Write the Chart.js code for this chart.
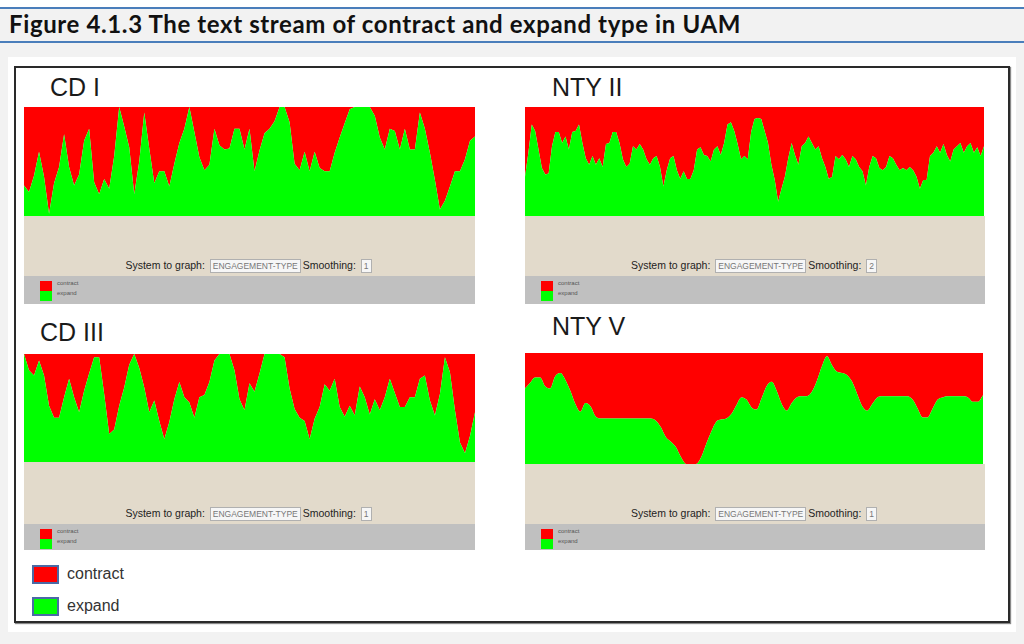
<!DOCTYPE html>
<html>
<head>
<meta charset="utf-8">
<script src="https://cdn.jsdelivr.net/npm/chart.js@4.4.1/dist/chart.umd.min.js"></script>
<style>
  body { margin: 0; width: 1024px; height: 644px; background: #f2f2f2; position: relative; overflow: hidden; font-family: Arial, "Liberation Sans", sans-serif; }
  .abs { position: absolute; }
  #topwhite { left: 0; top: 0; width: 1024px; height: 7px; background: #fff; }
  .blue { left: 0; width: 1024px; height: 2px; background: #4a7ebb; }
  #title { left: 9px; top: 9px; font-family: Lato, "Open Sans", sans-serif; font-weight: bold; font-size: 24px; color: #111; white-space: nowrap; }
  #sheet { left: 8px; top: 57px; width: 1008px; height: 575px; background: #fff; }
  #frame { left: 14px; top: 66px; width: 992px; height: 553px; border: 2px solid #2a2a2a; box-shadow: 1px 1px 1px #888; }
  .ptitle { font-size: 25px; color: #1a1a1a; white-space: nowrap; }
  .beige { background: #e2dacb; }
  .grey { background: #c0c0c0; }
  .sys { font-size: 10.5px; color: #222; white-space: nowrap; text-align: center; }
  .box { display: inline-block; border: 1px solid #b0b0b0; background: #f6f6f6; color: #777; padding: 0 2px; margin: 0 2px; font-size: 8.5px; line-height: 12px; vertical-align: middle; }
  .sq { width: 12px; height: 10px; }
  .tiny { font-size: 6px; color: #555; }
  .big { width: 23px; height: 15px; border: 2px solid #4a6aa5; }
  .bigtxt { font-size: 16px; color: #333; }
</style>
</head>
<body>
<div class="abs" id="topwhite"></div>
<div class="abs blue" style="top:7px"></div>
<div class="abs blue" style="top:41px"></div>
<div class="abs" id="title">Figure 4.1.3 The text stream of contract and expand type in UAM</div>
<div class="abs" id="sheet"></div>
<div class="abs" id="frame"></div>
<div id="panels"></div>
<div class="abs big" style="left:32px;top:565px;background:#ff0000"></div>
<div class="abs bigtxt" style="left:67px;top:565px">contract</div>
<div class="abs big" style="left:32px;top:597px;background:#00ff00"></div>
<div class="abs bigtxt" style="left:67px;top:597px">expand</div>

<script>
// share of "expand" in the text stream, % (contract = the rest)
var cd1Expand = [28, 22, 37, 59, 36, 2, 30, 45, 75, 45, 28, 38, 69, 80, 31, 20,
  34, 25, 55, 100, 82, 63, 20, 50, 95, 62, 30, 41, 41, 27, 48, 67, 80, 100, 77, 54,
  42, 47, 80, 65, 61, 62, 80, 80, 61, 80, 41, 60, 76, 80, 87, 100, 100, 86, 48, 42,
  59, 41, 59, 44, 41, 41, 58, 72, 85, 98, 100, 100, 100, 100, 92, 72, 61, 80, 78, 61,
  80, 61, 61, 95, 80, 58, 33, 6, 14, 27, 41, 41, 52, 69, 73];

var nty2Expand = [36, 58, 84, 78, 61, 44, 38, 39, 64, 77, 77, 67, 73, 61, 77, 78,
  84, 67, 53, 47, 55, 47, 53, 45, 66, 67, 77, 77, 67, 52, 45, 48, 64, 61, 66, 61,
  52, 47, 53, 55, 45, 27, 42, 53, 55, 42, 34, 41, 34, 34, 42, 61, 63, 56, 55, 50,
  61, 64, 56, 67, 84, 86, 78, 66, 52, 55, 52, 77, 89, 90, 89, 78, 67, 47, 33, 13,
  25, 36, 53, 67, 56, 47, 64, 67, 73, 67, 61, 64, 53, 45, 34, 36, 55, 52, 56, 52,
  45, 55, 52, 45, 41, 28, 45, 55, 53, 44, 42, 45, 55, 53, 47, 42, 44, 42, 45, 42,
  36, 25, 33, 33, 55, 58, 64, 58, 66, 56, 50, 61, 64, 67, 58, 64, 67, 58, 63, 55, 64];

var cd3Expand = [100, 85, 80, 94, 80, 52, 41, 41, 60, 77, 60, 46, 66, 82, 97, 97,
  63, 26, 30, 52, 69, 90, 100, 87, 69, 46, 57, 38, 21, 37, 58, 74, 60, 55, 41, 60,
  62, 74, 94, 100, 100, 100, 85, 58, 48, 73, 65, 82, 100, 100, 100, 100, 97, 68, 49, 41,
  38, 21, 40, 51, 72, 66, 77, 51, 42, 52, 43, 70, 60, 44, 58, 48, 60, 77, 64, 51,
  51, 60, 60, 77, 80, 57, 43, 63, 97, 83, 48, 18, 8, 24, 46];

var nty5Expand = [68, 73, 78, 78, 70, 68, 79, 82, 76, 66, 54, 47, 55, 52, 43, 41,
  41, 41, 41, 41, 41, 41, 41, 41, 41, 41, 39, 33, 24, 20, 15, 6, 0, 0, 0, 6,
  18, 29, 38, 40, 41, 45, 53, 60, 58, 51, 49, 59, 70, 74, 66, 54, 48, 55, 60, 61,
  61, 65, 75, 88, 97, 89, 83, 82, 80, 74, 63, 52, 48, 54, 60, 61, 61, 61, 61, 61,
  61, 58, 50, 42, 42, 50, 58, 60, 61, 61, 61, 61, 60, 56, 56, 62];

var panelNames = ['CD I', 'NTY II', 'CD III', 'NTY V'];
var smoothing = ['1', '2', '1', '1'];

var panels = [
  { data: cd1Expand, title: [50, 73], chart: [24, 107, 451, 109], strip: [24, 216, 451, 60, 28], smooth: false },
  { data: nty2Expand, title: [552, 73], chart: [525, 107, 459, 109], strip: [525, 216, 460, 60, 28], smooth: false },
  { data: cd3Expand, title: [40, 318], chart: [24, 354, 451, 108], strip: [24, 462, 451, 62, 26], smooth: false },
  { data: nty5Expand, title: [552, 312], chart: [525, 353, 458, 111], strip: [525, 464, 460, 60, 26], smooth: true }
];

// stretch the heading to the width it has in the figure
var t = document.getElementById('title');
var txt = t.textContent;
t.style.letterSpacing = ((732 - t.getBoundingClientRect().width) / txt.length) + 'px';

var host = document.getElementById('panels');

function el(tag, cls, css, html) {
  var d = document.createElement(tag);
  d.className = cls;
  d.style.cssText = css;
  if (html) d.innerHTML = html;
  host.appendChild(d);
  return d;
}

panels.forEach(function(p, k) {
  el('div', 'abs ptitle', 'left:' + p.title[0] + 'px;top:' + p.title[1] + 'px', panelNames[k]);

  var s = p.strip;
  el('div', 'abs beige', 'left:' + s[0] + 'px;top:' + s[1] + 'px;width:' + s[2] + 'px;height:' + s[3] + 'px');
  el('div', 'abs sys', 'left:' + s[0] + 'px;top:' + (s[1] + s[3] - 17) + 'px;width:' + s[2] + 'px',
    'System to graph: <span class="box">ENGAGEMENT-TYPE</span>Smoothing: <span class="box">' + smoothing[k] + '</span>');
  el('div', 'abs grey', 'left:' + s[0] + 'px;top:' + (s[1] + s[3]) + 'px;width:' + s[2] + 'px;height:' + s[4] + 'px');
  el('div', 'abs sq', 'left:' + (s[0] + 16) + 'px;top:' + (s[1] + s[3] + 5) + 'px;background:#ff0000');
  el('div', 'abs sq', 'left:' + (s[0] + 16) + 'px;top:' + (s[1] + s[3] + 15) + 'px;background:#00ff00');
  el('div', 'abs tiny', 'left:' + (s[0] + 33) + 'px;top:' + (s[1] + s[3] + 4) + 'px', 'contract');
  el('div', 'abs tiny', 'left:' + (s[0] + 33) + 'px;top:' + (s[1] + s[3] + 14) + 'px', 'expand');

  var c = p.chart;
  var wrap = el('div', 'abs', 'left:' + c[0] + 'px;top:' + c[1] + 'px;width:' + c[2] + 'px;height:' + c[3] + 'px');
  var canvas = document.createElement('canvas');
  wrap.appendChild(canvas);

  var labels = p.data.map(function(v, i) { return i; });
  var contract = p.data.map(function(v) { return 100 - v; });

  new Chart(canvas, {
    type: 'line',
    data: {
      labels: labels,
      datasets: [
        { label: 'expand', data: p.data, backgroundColor: '#00ff00', borderColor: '#00ff00', borderWidth: 0, fill: 'origin' },
        { label: 'contract', data: contract, backgroundColor: '#ff0000', borderColor: '#ff0000', borderWidth: 0, fill: '-1' }
      ]
    },
    options: {
      responsive: true,
      maintainAspectRatio: false,
      animation: false,
      layout: { padding: 0 },
      elements: {
        point: { radius: 0 },
        line: { tension: p.smooth ? 0.4 : 0, cubicInterpolationMode: p.smooth ? 'monotone' : 'default' }
      },
      plugins: { legend: { display: false }, tooltip: { enabled: false } },
      scales: {
        x: { display: false, offset: false },
        y: { display: false, stacked: true, min: 0, max: 100 }
      }
    }
  });
});
</script>
</body>
</html>
